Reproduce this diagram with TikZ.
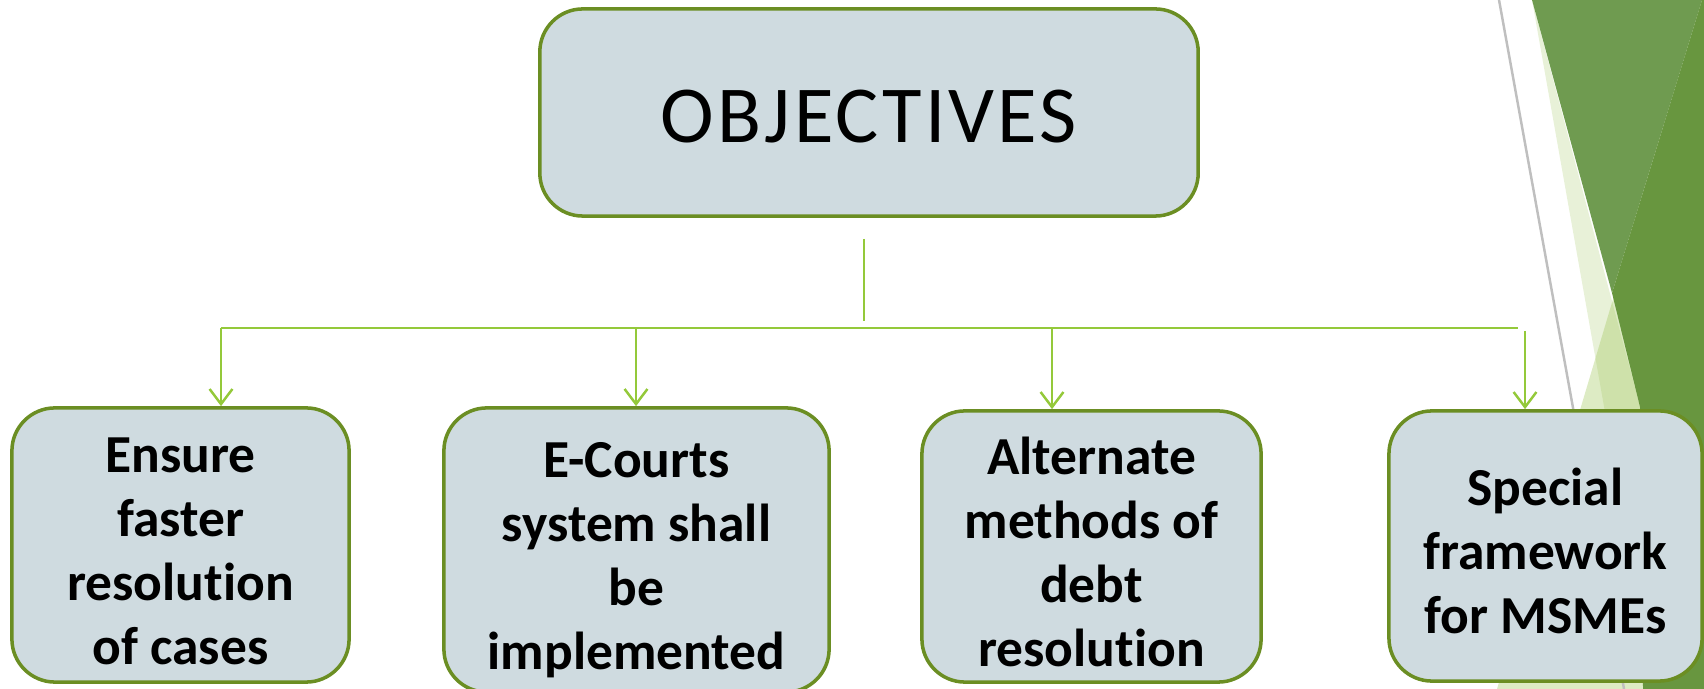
\documentclass[tikz,border=0pt]{standalone}
\usepackage{fontspec}
\setmainfont{Carlito}[Ligatures=NoCommon]
\newfontfamily\titlefont{Carlito}[Ligatures=NoCommon,LetterSpace=4]
\usetikzlibrary{arrows.meta}
\definecolor{boxfill}{HTML}{CFDBE0}
\definecolor{boxline}{HTML}{6B8E23}
\definecolor{linkgreen}{HTML}{94C93A}
\definecolor{facetdark}{HTML}{68963F}
\definecolor{facetmid}{HTML}{6F9B50}
\definecolor{facetpale}{HTML}{E8F1D8}
\definecolor{facetlight}{RGB}{158,198,86}
\definecolor{facetgray}{HTML}{BFBFBF}
\newcommand{\linetop}{\rule{0pt}{16.9pt}}
\newcommand{\linebot}{\rule[-3.5pt]{0pt}{3.5pt}}

\begin{document}
\begin{tikzpicture}[x=0.01cm,y=-0.01cm,
		objbox/.style={draw=boxline,line width=1pt,fill=boxfill,rounded corners=0.43cm,align=center,inner sep=0pt},
		aimtext/.style={font=\fontsize{15.2pt}{18.2pt}\selectfont\bfseries},
		link/.style={draw=linkgreen,line width=0.7pt},
		drop/.style={link,-{Straight Barb[length=4.3pt,width=6.5pt]}}]
		\useasboundingbox (0,0) rectangle (1704,689);
		\fill[facetpale] (1532,0) -- (1654,689) -- (1715,689) -- cycle;
		\fill[facetlight,opacity=0.35] (1702,0) -- (1497,689) -- (1704,689) -- (1704,0) -- cycle;
		\draw[facetgray,line width=0.7pt] (1499,0) -- (1624,689);
		\fill[facetmid] (1532,0) -- (1702,0) -- (1612,293) -- cycle;
		\fill[facetdark] (1702,0) -- (1704,0) -- (1704,689) -- (1643,689) -- (1640,407) -- (1612,293) -- cycle;
		\node[objbox,minimum width=6.58cm,minimum height=2.07cm,font=\titlefont\fontsize{23pt}{28pt}\selectfont] (aims) at (869,112.5) {\rule{0pt}{17pt}OBJECTIVES};
		\node[objbox,aimtext,minimum width=3.37cm,minimum height=2.74cm] (speed) at (180.5,545) {\linetop Ensure\\faster\\resolution\\of cases\linebot};
		\node[objbox,aimtext,minimum width=3.85cm,minimum height=2.84cm] (ecourt) at (636.5,550) {\linetop E-Courts\\system shall\\be\\implemented\linebot};
		\node[objbox,aimtext,minimum width=3.39cm,minimum height=2.71cm] (adr) at (1091.5,546.5) {\linetop Alternate\\methods of\\debt\\resolution\linebot};
		\node[objbox,aimtext,minimum width=3.13cm,minimum height=2.70cm] (msme) at (1545.5,546) {\linetop Special\\framework\\for MSMEs\linebot};
		\coordinate (stem top) at (864,239);
		\coordinate (stem end) at (864,321);
		\coordinate (bus left) at (221,328);
		\coordinate (bus right) at (1518,328);
		\coordinate (drop a) at (636,328);
		\coordinate (drop b) at (1052,328);
		\coordinate (drop c) at (1525,331);
		\draw[link] (stem top) -- (stem end);
		\draw[link] (bus left) -- (bus right);
		\draw[drop] (bus left) -- (bus left |- speed.north);
		\draw[drop] (drop a) -- (drop a |- ecourt.north);
		\draw[drop] (drop b) -- (drop b |- adr.north);
		\draw[drop] (drop c) -- (drop c |- msme.north);
	\end{tikzpicture}
\end{document}
